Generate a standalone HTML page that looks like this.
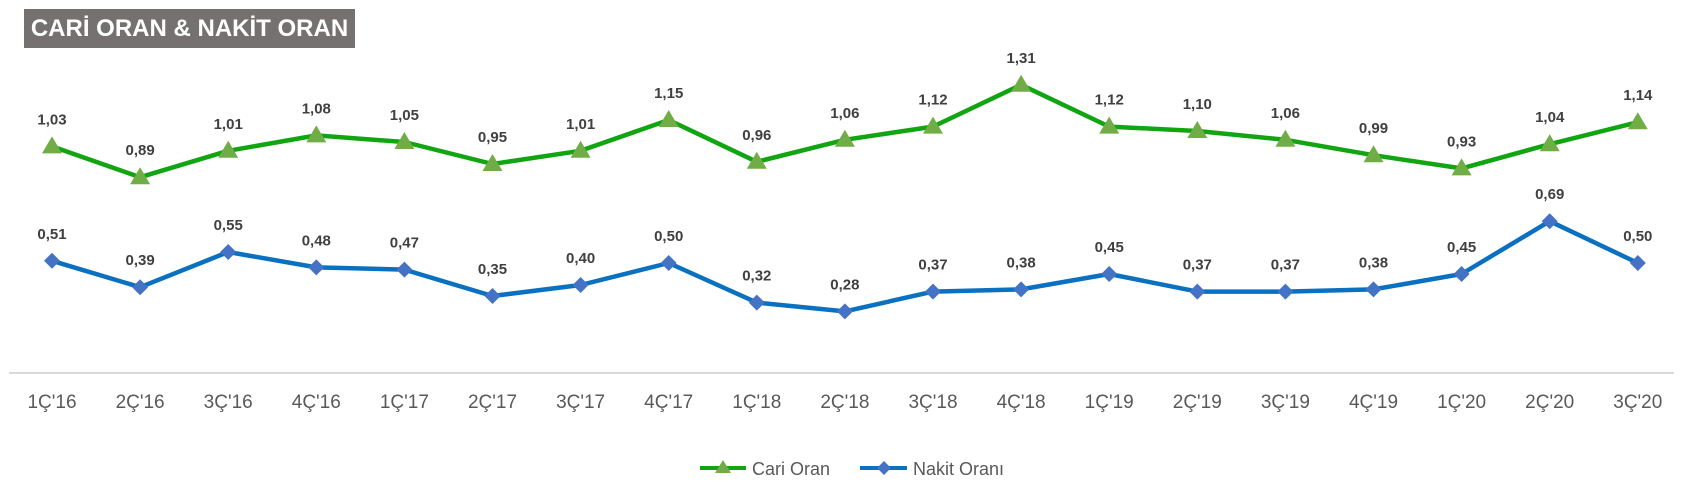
<!DOCTYPE html>
<html><head><meta charset="utf-8">
<style>
body{margin:0;background:#fff;width:1699px;height:496px;overflow:hidden;font-family:"Liberation Sans",sans-serif;}
#title{position:absolute;left:24px;top:9px;width:331px;height:39px;background:#767171;color:#fff;font-weight:bold;font-size:24px;line-height:39px;text-align:center;white-space:nowrap;overflow:hidden;}
svg{position:absolute;left:0;top:0;}
</style></head><body>
<svg id="chart" width="1699" height="496"></svg>
<div id="title">CARİ ORAN &amp; NAKİT ORAN</div>
<script>
const categories=["1Ç'16","2Ç'16","3Ç'16","4Ç'16","1Ç'17","2Ç'17","3Ç'17","4Ç'17","1Ç'18","2Ç'18","3Ç'18","4Ç'18","1Ç'19","2Ç'19","3Ç'19","4Ç'19","1Ç'20","2Ç'20","3Ç'20"];
const cariOran=[1.03,0.89,1.01,1.08,1.05,0.95,1.01,1.15,0.96,1.06,1.12,1.31,1.12,1.10,1.06,0.99,0.93,1.04,1.14];
const nakitOran=[0.51,0.39,0.55,0.48,0.47,0.35,0.40,0.50,0.32,0.28,0.37,0.38,0.45,0.37,0.37,0.38,0.45,0.69,0.50];
const NS="http://www.w3.org/2000/svg";
const svg=document.getElementById('chart');
const x0=52,dx=88.1;
function xs(i){return x0+i*dx;}
function ys(v){return 373-v*220;}
function mk(t,a,p){const e=document.createElementNS(NS,t);for(const k in a)e.setAttribute(k,a[k]);(p||svg).appendChild(e);return e;}
const axis=mk('line',{x1:9,x2:1674,y1:373,y2:373,stroke:'#d9d9d9','stroke-width':2});


categories.forEach((c,i)=>{const t=mk('text',{x:xs(i),y:408,'text-anchor':'middle','font-size':19,fill:'#595959'});t.textContent=c;

});
function fmt(v){return v.toFixed(2).replace('.',',');}
function series(vals,line,marker,shape,name){
  const pl=mk('polyline',{points:vals.map((v,i)=>xs(i)+','+ys(v)).join(' '),fill:'none',stroke:line,'stroke-width':4.5,'stroke-linejoin':'round'});
  
  
  vals.forEach((v,i)=>{const x=xs(i),y=ys(v);let m;
    if(shape==='tri')m=mk('polygon',{points:`${x},${y-10} ${x+10},${y+7} ${x-10},${y+7}`,fill:marker});
    else m=mk('polygon',{points:`${x},${y-8} ${x+8},${y} ${x},${y+8} ${x-8},${y}`,fill:marker});
    
    
    const t=mk('text',{x:x,y:y-22,'text-anchor':'middle','font-size':15,'font-weight':'bold',fill:'#404040'});t.textContent=fmt(v);
    
    
  });
}
series(cariOran,'#11a511','#70ad47','tri','cari-oran');
series(nakitOran,'#0a70c0','#4472c4','dia','nakit-oran');
const g1=mk('g',{});


mk('line',{x1:700,x2:746,y1:468,y2:468,stroke:'#11a511','stroke-width':4},g1);
mk('polygon',{points:'723,460 731,473 715,473',fill:'#70ad47'},g1);
const lt1=mk('text',{x:752,y:475,'font-size':18,fill:'#595959'},g1);lt1.textContent='Cari Oran';
const g2=mk('g',{});


mk('line',{x1:860,x2:907,y1:468,y2:468,stroke:'#0a70c0','stroke-width':4},g2);
mk('polygon',{points:'884,461 891,468 884,475 877,468',fill:'#4472c4'},g2);
const lt2=mk('text',{x:913,y:475,'font-size':18,fill:'#595959'},g2);lt2.textContent='Nakit Oranı';
</script>
</body></html>
